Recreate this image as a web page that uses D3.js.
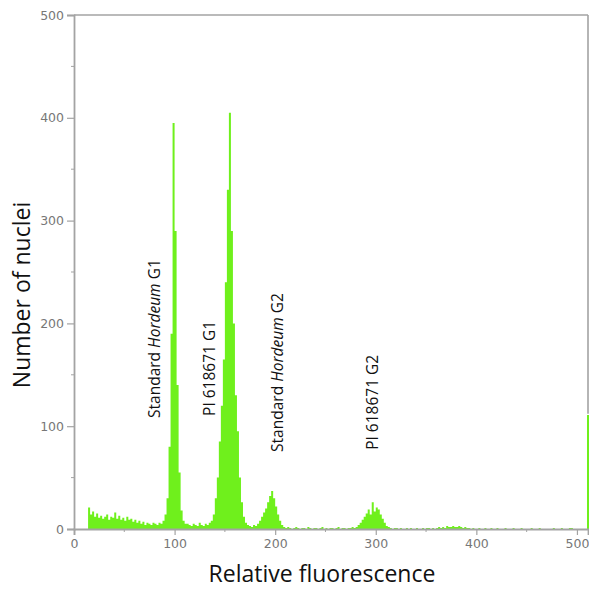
<!DOCTYPE html>
<html>
<head>
<meta charset="utf-8">
<script src="https://cdn.jsdelivr.net/npm/d3@7"></script>
<style>
  body { margin: 0; background: #fff; }
  svg { display: block; }
</style>
</head>
<body>
<svg id="chart" width="589" height="590"></svg>
<script>
// histogram: bins of 2 channels, first bin starts at channel 0
const binWidth = 2;
const counts = [
  0, 0, 0, 0, 0, 0, 0, 21, 14, 17,          // 0-19
  12, 15, 11, 13, 10, 12, 14, 9, 12, 11,    // 20-39
  16, 10, 13, 9, 11, 8, 12, 9, 10, 7,       // 40-59
  9, 6, 8, 5, 7, 4, 6, 5, 4, 6,             // 60-79
  5, 4, 6, 5, 8, 14, 30, 80, 190, 395,      // 80-99
  290, 140, 55, 18, 8, 5, 5, 4, 3, 5,       // 100-119
  4, 3, 6, 4, 3, 5, 4, 6, 8, 14,            // 120-139
  30, 50, 85, 120, 165, 240, 330, 405, 290, 200, // 140-159
  130, 95, 50, 26, 12, 6, 4, 3, 2, 4,       // 160-179
  3, 5, 8, 12, 16, 20, 26, 32, 37, 30,      // 180-199
  22, 14, 8, 4, 2, 1, 2, 1, 0, 1,           // 200-219
  2, 1, 0, 1, 1, 0, 2, 1, 0, 1,             // 220-239
  1, 0, 1, 2, 0, 1, 0, 1, 1, 0,             // 240-259
  1, 2, 0, 1, 1, 0, 1, 1, 2, 1,             // 260-279
  2, 4, 6, 9, 12, 15, 19, 14, 26, 17,       // 280-299
  21, 19, 14, 10, 6, 3, 2, 1, 0, 1,         // 300-319
  1, 0, 1, 0, 0, 1, 0, 1, 0, 0,             // 320-339
  1, 0, 0, 1, 0, 1, 1, 0, 1, 0,             // 340-359
  1, 2, 1, 2, 1, 3, 2, 2, 3, 2,             // 360-379
  2, 3, 2, 1, 2, 1, 1, 0, 1, 0,             // 380-399
  0, 1, 0, 0, 1, 0, 0, 1, 0, 0,             // 400-419
  1, 0, 0, 0, 1, 0, 0, 0, 1, 0,             // 420-439
  0, 0, 1, 0, 0, 0, 0, 1, 0, 0,             // 440-459
  0, 1, 0, 0, 0, 0, 0, 0, 1, 0,             // 460-479
  0, 0, 1, 0, 0, 0, 1, 1, 0, 0,             // 480-499
  0, 0, 0, 0, 0, 111                        // 500-511
];

const xTicks = [0, 100, 200, 300, 400, 500];
const yTicks = [0, 100, 200, 300, 400, 500];
const xMinor = [50, 150, 250, 350, 450];
const yMinor = [50, 150, 250, 350, 450];

// peak annotations: text parts, channel of label, count where label text ends
const peakLabels = [
  ["Standard ", "Hordeum", " G1"],
  ["PI 618671 G1"],
  ["Standard ", "Hordeum", " G2"],
  ["PI 618671 G2"]
];
const labelChannels = [80.5, 134.5, 202, 297];
const labelBases = [108, 110, 75, 77];

const svg = d3.select("#chart");
const plotLeft = 74, plotRight = 588, plotTop = 15, plotBottom = 529;

const x = d3.scaleLinear().domain([0, 511]).range([plotLeft, plotRight]);
const y = d3.scaleLinear().domain([0, 500]).range([plotBottom, plotTop]);

const green = "#6ff01c";
const axisGray = "#a3a3a3";
const textGray = "#777";
const titleFont = "'Open Sans', 'DejaVu Sans', sans-serif";

// histogram as one stepped area
const pts = counts.map((c, i) => [i * binWidth, c]);
pts.push([counts.length * binWidth, counts[counts.length - 1]]);
const area = d3.area()
  .curve(d3.curveStepAfter)
  .x(d => x(d[0]))
  .y0(plotBottom)
  .y1(d => y(d[1]));
svg.append("path")
  .datum(pts)
  .attr("d", area)
  .attr("fill", green);

// frame top/right
svg.append("line")
  .attr("x1", plotLeft).attr("x2", plotRight).attr("y1", plotTop).attr("y2", plotTop)
  .attr("stroke", axisGray).attr("stroke-width", 1.6);
svg.append("line")
  .attr("x1", plotRight).attr("x2", plotRight).attr("y1", plotTop).attr("y2", y(112))
  .attr("stroke", axisGray).attr("stroke-width", 1.6);

// axes
const yAxis = svg.append("g")
  .attr("transform", "translate(" + plotLeft + ",0)")
  .call(d3.axisLeft(y).tickValues(yTicks).tickSize(7).tickPadding(3));
const xAxis = svg.append("g")
  .attr("transform", "translate(0," + plotBottom + ")")
  .call(d3.axisBottom(x).tickValues(xTicks).tickSize(6).tickPadding(4));

[xAxis, yAxis].forEach(g => {
  g.select(".domain").attr("stroke", axisGray).attr("stroke-width", 1.8);
  g.selectAll(".tick line").attr("stroke", axisGray).attr("stroke-width", 1.2);
  g.selectAll(".tick text")
    .attr("fill", textGray)
    .style("font-family", "'DejaVu Sans', sans-serif")
    .style("font-size", "12.5px");
});

// minor ticks
svg.append("g").selectAll("line").data(yMinor).enter().append("line")
  .attr("x1", plotLeft - 3).attr("x2", plotLeft)
  .attr("y1", d => y(d)).attr("y2", d => y(d))
  .attr("stroke", axisGray).attr("stroke-width", 1);
svg.append("g").selectAll("line").data(xMinor).enter().append("line")
  .attr("y1", plotBottom).attr("y2", plotBottom + 3)
  .attr("x1", d => x(d)).attr("x2", d => x(d))
  .attr("stroke", axisGray).attr("stroke-width", 1);

// axis titles
svg.append("text")
  .attr("transform", "translate(30,295) rotate(-90)")
  .attr("text-anchor", "middle")
  .style("font-family", titleFont)
  .style("font-size", "23px")
  .attr("fill", "#111")
  .text("Number of nuclei");
svg.append("text")
  .attr("x", 322).attr("y", 582)
  .attr("text-anchor", "middle")
  .style("font-family", titleFont)
  .style("font-size", "23px")
  .attr("fill", "#111")
  .text("Relative fluorescence");

// peak labels
peakLabels.forEach((parts, i) => {
  const t = svg.append("text")
    .attr("transform", "translate(" + (x(labelChannels[i]) + 5.5) + "," + y(labelBases[i]) + ") rotate(-90)")
    .style("font-family", titleFont)
    .style("font-size", "15.5px")
    .attr("fill", "#111");
  parts.forEach(p => {
    t.append("tspan")
      .style("font-style", p === "Hordeum" ? "italic" : "normal")
      .text(p);
  });
});
</script>
</body>
</html>
